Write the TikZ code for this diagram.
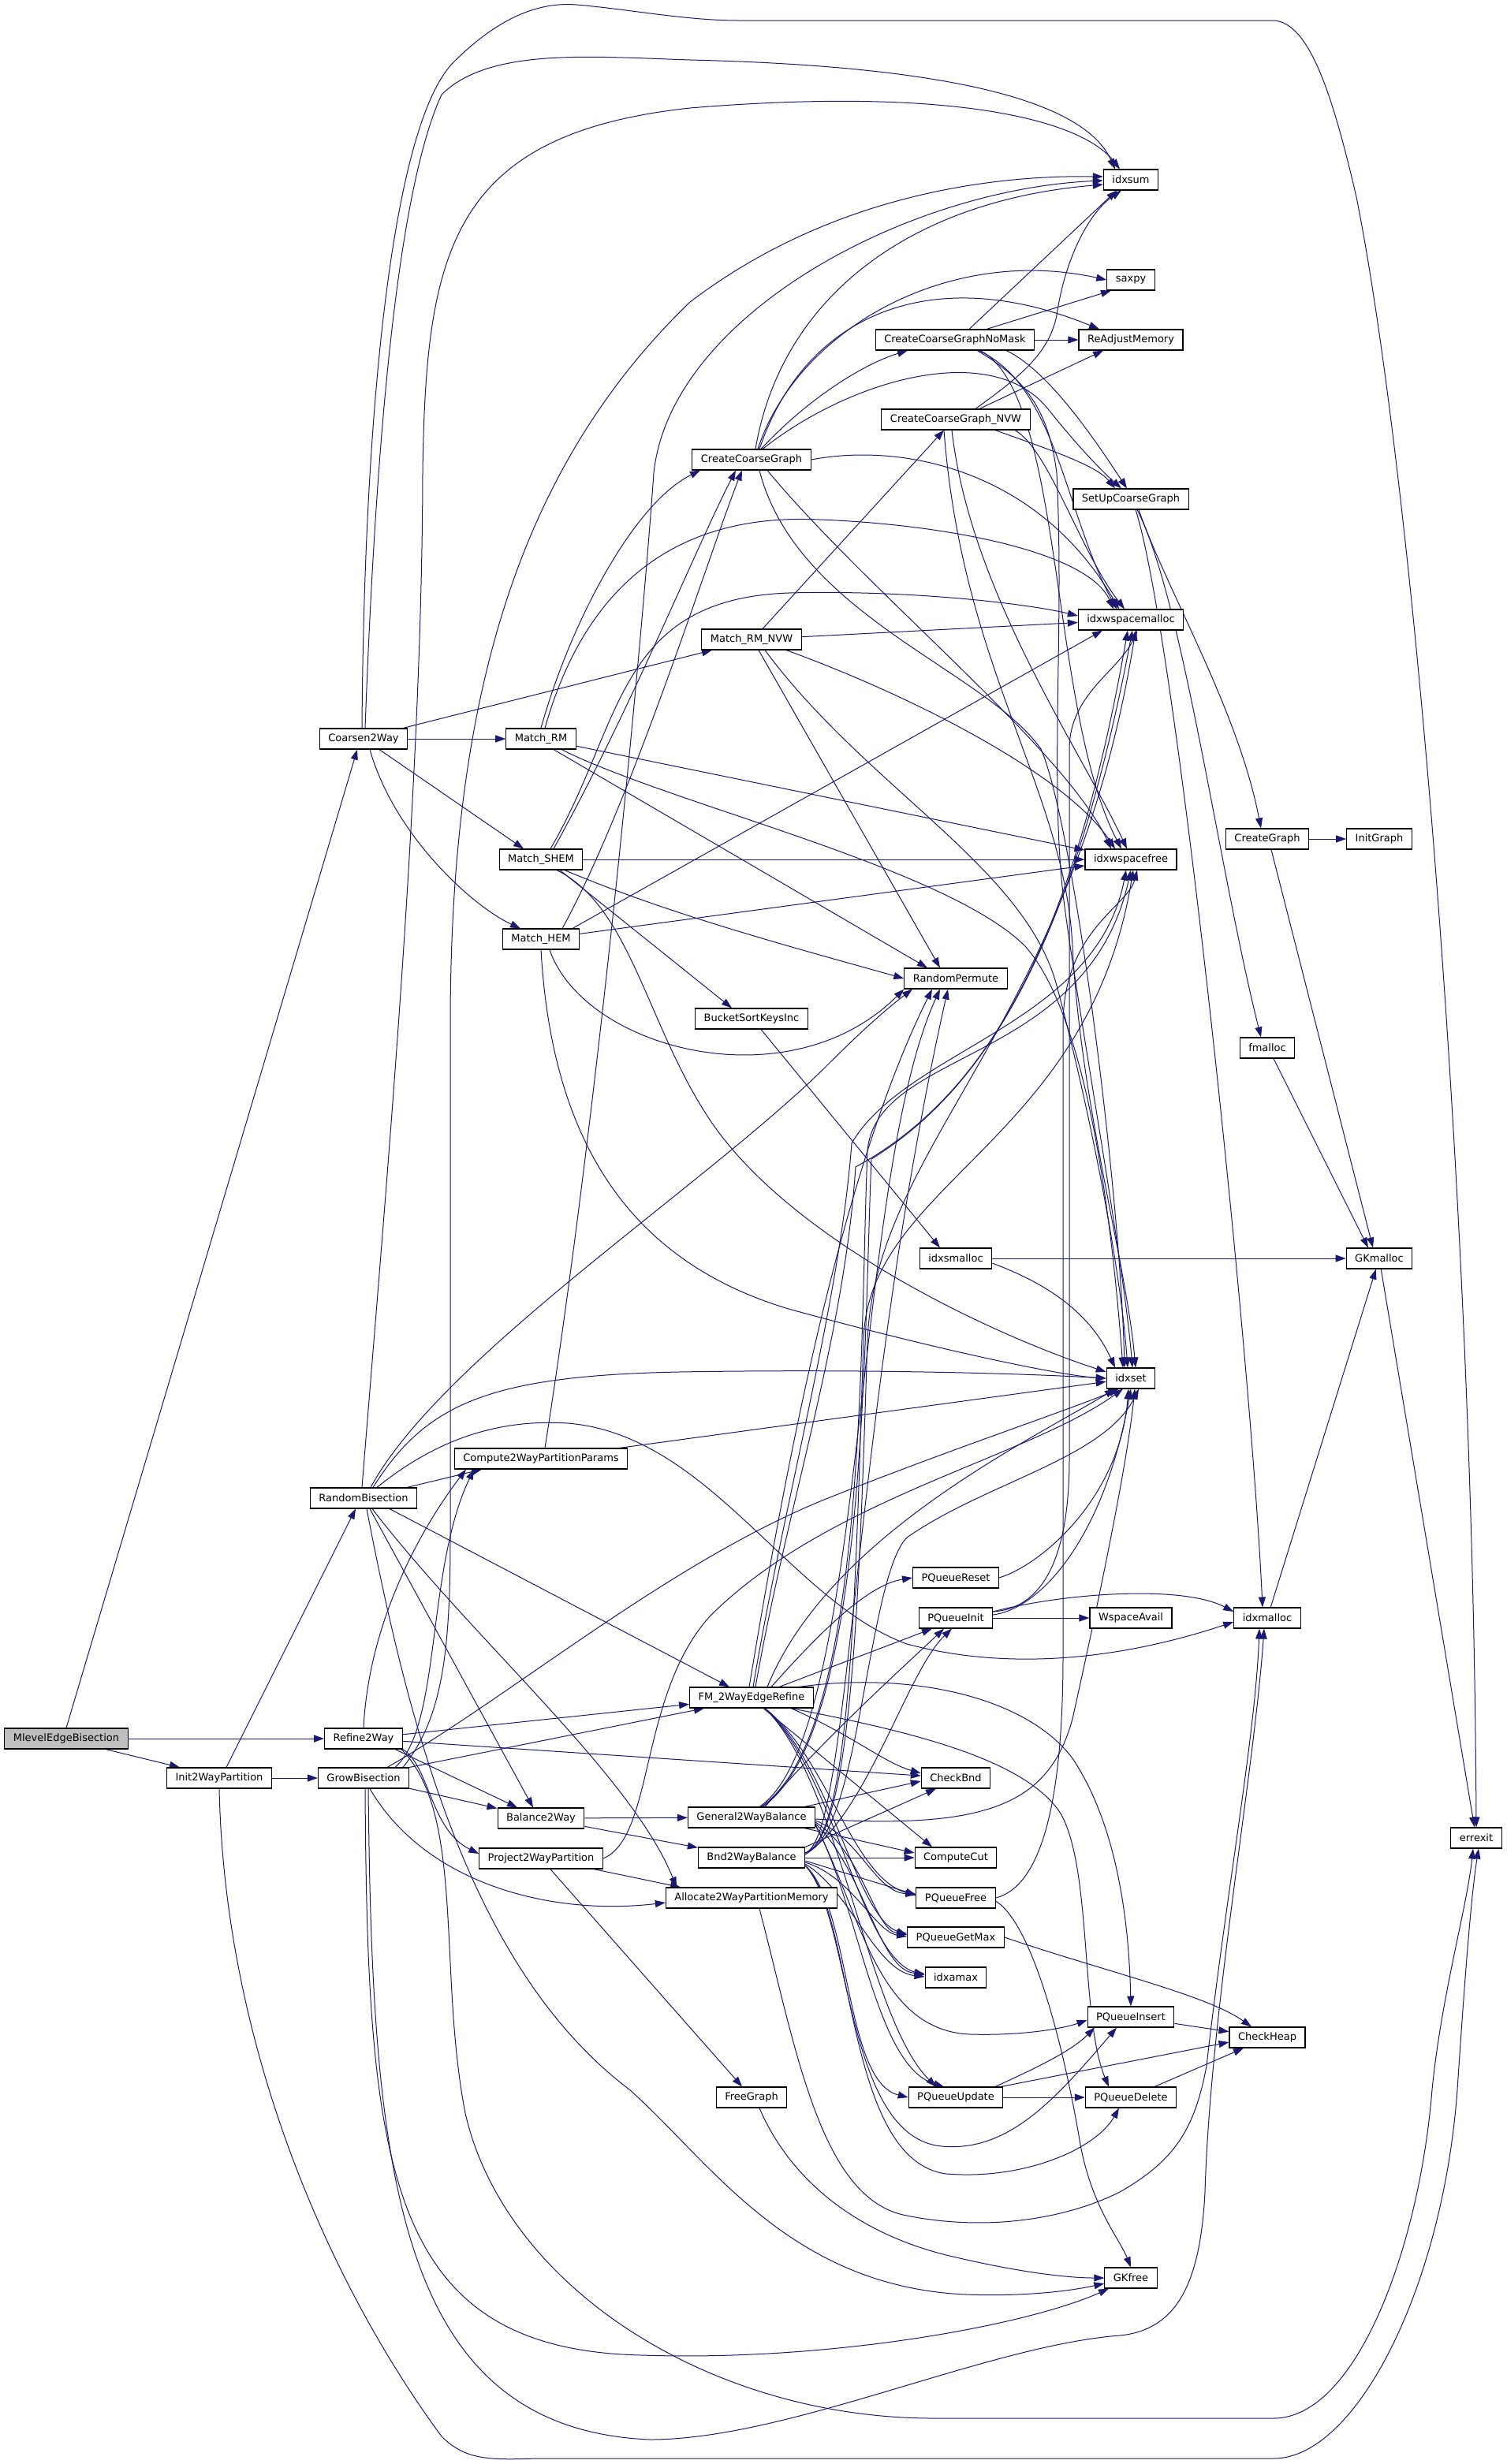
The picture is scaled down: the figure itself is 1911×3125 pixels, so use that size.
\documentclass[tikz,border=0pt]{standalone}
\usepackage{fontspec}
\setmainfont{DejaVu Sans}
\usetikzlibrary{arrows.meta,backgrounds}
\definecolor{edgec}{HTML}{191970}
\definecolor{hl}{HTML}{BFBFBF}
\begin{document}
\begin{tikzpicture}[x=1pt,y=-1pt,
  fn/.style={draw=black, line width=1.1pt, fill=white, rectangle, inner xsep=11pt, inner ysep=0pt,
    minimum height=26pt, font=\fontsize{13}{15}\selectfont, anchor=center},
  call/.style={draw=edgec, line width=1pt, -{Triangle[length=13pt,width=9pt]}}]
\useasboundingbox (0,0) rectangle (1911,3125);

% ---------------- nodes ----------------
\node[fn, fill=hl] (meb) at (84,2205) {MlevelEdgeBisection};
\node[fn] (c2w) at (461,937) {Coarsen2Way};
\node[fn] (i2p) at (278,2255) {Init2WayPartition};
\node[fn] (r2w) at (461,2205) {Refine2Way};
\node[fn] (rb) at (461,1900) {RandomBisection};
\node[fn] (gb) at (461,2255) {GrowBisection};
\node[fn] (mrm) at (686,937) {Match\_RM};
\node[fn] (mrmn) at (953,811) {Match\_RM\_NVW};
\node[fn] (mshem) at (686,1090) {Match\_SHEM};
\node[fn] (mhem) at (686,1191) {Match\_HEM};
\node[fn] (c2pp) at (686,1850) {Compute2WayPartitionParams};
\node[fn] (b2w) at (686,2306) {Balance2Way};
\node[fn] (p2p) at (686,2357) {Project2WayPartition};
\node[fn] (ccg) at (953,583) {CreateCoarseGraph};
\node[fn] (bski) at (953,1292) {BucketSortKeysInc};
\node[fn] (fm) at (953,2153) {FM\_2WayEdgeRefine};
\node[fn] (g2b) at (953,2305) {General2WayBalance};
\node[fn] (bnd) at (953,2356) {Bnd2WayBalance};
\node[fn] (a2pm) at (953,2407) {Allocate2WayPartitionMemory};
\node[fn] (fg) at (953,2660) {FreeGraph};
\node[fn] (ccgnm) at (1211,431) {CreateCoarseGraphNoMask};
\node[fn] (ccgnvw) at (1212,532) {CreateCoarseGraph\_NVW};
\node[fn] (rp) at (1212,1241) {RandomPermute};
\node[fn] (ism) at (1212,1596) {idxsmalloc};
\node[fn] (pqr) at (1212,2001) {PQueueReset};
\node[fn] (pqi) at (1212,2052) {PQueueInit};
\node[fn] (cb) at (1212,2255) {CheckBnd};
\node[fn] (cc) at (1212,2356) {ComputeCut};
\node[fn] (pqf) at (1212,2407) {PQueueFree};
\node[fn] (pqg) at (1212,2457) {PQueueGetMax};
\node[fn] (ia) at (1212,2508) {idxamax};
\node[fn] (pqu) at (1212,2660) {PQueueUpdate};
\node[fn] (isum) at (1434,228) {idxsum};
\node[fn] (saxpy) at (1434,355) {saxpy};
\node[fn] (ram) at (1434,431) {ReAdjustMemory};
\node[fn] (sucg) at (1434,633) {SetUpCoarseGraph};
\node[fn] (iwm) at (1434,786) {idxwspacemalloc};
\node[fn] (iwf) at (1434,1090) {idxwspacefree};
\node[fn] (iset) at (1434,1748) {idxset};
\node[fn] (wa) at (1434,2052) {WspaceAvail};
\node[fn] (pqins) at (1434,2558) {PQueueInsert};
\node[fn] (pqd) at (1434,2660) {PQueueDelete};
\node[fn] (gkf) at (1434,2889) {GKfree};
\node[fn] (cg) at (1607,1064) {CreateGraph};
\node[fn] (fma) at (1607,1329) {fmalloc};
\node[fn] (im) at (1607,2052) {idxmalloc};
\node[fn] (ch) at (1607,2584) {CheckHeap};
\node[fn] (ig) at (1749,1064) {InitGraph};
\node[fn] (gkm) at (1749,1596) {GKmalloc};
\node[fn] (err) at (1872,2331) {errexit};

\begin{scope}[on background layer]
\fill[white] (0,0) rectangle (1911,3125);

% MlevelEdgeBisection
\draw[call] (meb.north) -- ([xshift=-8pt]c2w.south);
\draw[call] (meb) -- (r2w);
\draw[call] ([xshift=50pt]meb.south) -- ([xshift=-50pt]i2p.north);

% Init2WayPartition
\draw[call] (i2p) -- (gb);
\draw[call] ([xshift=9pt]i2p.north) -- ([xshift=-10pt]rb.south);
\draw[call] (i2p.south) .. controls (285,2600) and (420,2900) .. (560,3090) .. controls (590,3120) and (620,3120) .. (680,3118) -- (1615,3118) .. controls (1720,3118) and (1830,2900) .. (1848,2650) .. controls (1858,2500) and (1866,2400) .. ([xshift=3pt]err.south);

% Coarsen2Way
\draw[call] (c2w) -- (mrm);
\draw[call] ([xshift=50pt]c2w.north) -- ([xshift=-50pt]mrmn.south);
\draw[call] ([xshift=20pt]c2w.south) -- ([xshift=-22pt]mshem.north);
\draw[call] ([xshift=8pt]c2w.south) .. controls (500,1060) and (600,1150) .. ([xshift=-26pt]mhem.north);
\draw[call] ([xshift=2pt]c2w.north) .. controls (475,600) and (500,250) .. (560,120) .. controls (620,60) and (750,72) .. (875,76) .. controls (1250,85) and (1380,140) .. ([xshift=-20pt]isum.north);
\draw[call] ([xshift=-2pt]c2w.north) .. controls (462,500) and (500,150) .. (577,77) .. controls (630,25) and (680,2) .. (731,6) .. controls (800,12) and (870,26) .. (937,26) -- (1615,26) .. controls (1660,28) and (1690,120) .. (1720,250) .. controls (1790,600) and (1868,1500) .. (err.north);

% Match_RM
\draw[call] (mrm.north) .. controls (720,800) and (800,640) .. ([xshift=-65pt]ccg.south);
\draw[call] ([xshift=5pt]mrm.north) .. controls (740,750) and (850,650) .. (1039,659) .. controls (1200,665) and (1380,700) .. ([xshift=-22pt]iwm.north);
\draw[call] (mrm) -- (iwf);
\draw[call] ([xshift=16pt]mrm.south) -- ([xshift=-36pt]rp.north);
\draw[call] ([xshift=26pt]mrm.south) .. controls (850,1020) and (1200,1100) .. (1300,1200) .. controls (1380,1290) and (1410,1550) .. ([xshift=-10pt]iset.north);

% Match_RM_NVW
\draw[call] ([xshift=14pt]mrmn.north) -- ([xshift=-15pt]ccgnvw.south);
\draw[call] (mrmn) -- (iwm);
\draw[call] ([xshift=9pt]mrmn.south) -- ([xshift=-20pt]rp.north);
\draw[call] ([xshift=44pt]mrmn.south) .. controls (1150,880) and (1350,980) .. ([xshift=-20pt]iwf.north);
\draw[call] ([xshift=17pt]mrmn.south) .. controls (1100,1000) and (1300,1100) .. (1340,1250) .. controls (1380,1400) and (1420,1600) .. ([xshift=-4pt]iset.north);

% Match_SHEM
\draw[call] ([xshift=16pt]mshem.north) .. controls (800,900) and (880,700) .. ([xshift=-20pt]ccg.south);
\draw[call] ([xshift=12pt]mshem.north) .. controls (790,920) and (780,760) .. (1000,752) .. controls (1150,748) and (1300,765) .. ([yshift=5pt]iwm.west);
\draw[call] (mshem) -- (iwf);
\draw[call] ([xshift=30pt]mshem.south) .. controls (850,1160) and (1000,1200) .. (rp.west);
\draw[call] ([xshift=24pt]mshem.south) -- ([xshift=-25pt]bski.north);
\draw[call] ([xshift=20pt]mshem.south) .. controls (800,1150) and (820,1300) .. (900,1420) .. controls (1000,1570) and (1250,1690) .. ([yshift=8pt]iset.west);

% Match_HEM
\draw[call] ([xshift=27pt]mhem.north) .. controls (800,1020) and (900,700) .. ([xshift=-12pt]ccg.south);
\draw[call] ([xshift=40pt]mhem.north) -- ([xshift=-36pt]iwm.south);
\draw[call] (mhem) -- (iwf);
\draw[call] ([xshift=11pt]mhem.south) .. controls (740,1330) and (1000,1400) .. (rp.south west);
\draw[call] (mhem.south) .. controls (700,1450) and (800,1600) .. (1000,1660) .. controls (1200,1715) and (1350,1745) .. (iset.west);

% BucketSortKeysInc, idxsmalloc
\draw[call] ([xshift=12pt]bski.south) -- ([xshift=-20pt]ism.north);
\draw[call] (ism) -- (gkm);
\draw[call] ([yshift=-6pt]ism.east) .. controls (1320,1625) and (1380,1660) .. ([xshift=-20pt]iset.north);

% CreateGraph, fmalloc, GKmalloc, idxmalloc
\draw[call] (cg) -- (ig);
\draw[call] ([xshift=5pt]cg.south) -- ([xshift=-8pt]gkm.north);
\draw[call] ([xshift=8pt]fma.south) -- ([xshift=-14pt]gkm.north);
\draw[call] (gkm) -- (err);
\draw[call] (im) -- (gkm);

% SetUpCoarseGraph
\draw[call] ([xshift=10pt]sucg.south) .. controls (1480,750) and (1570,900) .. ([xshift=-8pt]cg.north);
\draw[call] ([xshift=8pt]sucg.south) .. controls (1500,760) and (1545,1100) .. ([xshift=-8pt]fma.north);
\draw[call] ([xshift=6pt]sucg.south) .. controls (1490,800) and (1585,1700) .. ([xshift=-6pt]im.north);

% CreateCoarseGraph
\draw[call] ([xshift=5pt]ccg.north) .. controls (990,380) and (1150,255) .. ([yshift=-6pt]isum.west);
\draw[call] ([xshift=8pt]ccg.north) .. controls (1010,420) and (1200,310) .. (saxpy.west);
\draw[call] ([xshift=10pt]ccg.north) .. controls (1020,400) and (1180,330) .. ([xshift=-40pt]ram.north);
\draw[call] ([xshift=12pt]ccg.north) .. controls (1030,500) and (1100,460) .. ([xshift=-60pt]ccgnm.south);
\draw[call] ([xshift=14pt]ccg.north) .. controls (1080,480) and (1260,430) .. (1330,520) .. controls (1370,570) and (1400,600) .. ([xshift=-12pt]sucg.north);
\draw[call] (ccg.east) .. controls (1150,560) and (1320,600) .. ([xshift=-15pt]iwm.north);
\draw[call] ([xshift=10pt]ccg.south) .. controls (1010,780) and (1250,850) .. (1320,950) .. controls (1360,1040) and (1420,1500) .. ([xshift=-8pt]iset.north);
\draw[call] ([xshift=20pt]ccg.south) .. controls (1100,750) and (1350,950) .. ([xshift=-25pt]iwf.north);

% CreateCoarseGraphNoMask
\draw[call] ([xshift=18pt]ccgnm.north) -- ([xshift=-18pt]isum.south);
\draw[call] ([xshift=40pt]ccgnm.north) -- ([xshift=-25pt]saxpy.south);
\draw[call] (ccgnm) -- (ram);
\draw[call] ([xshift=65pt]ccgnm.south) .. controls (1330,470) and (1390,560) .. ([xshift=-5pt]sucg.north);
\draw[call] ([xshift=30pt]ccgnm.south) .. controls (1340,490) and (1350,650) .. ([xshift=-18pt]iwm.north);
\draw[call] ([xshift=32pt]ccgnm.south) .. controls (1350,500) and (1330,900) .. ([xshift=-12pt]iwf.north);
\draw[call] ([xshift=28pt]ccgnm.south) .. controls (1300,480) and (1330,520) .. (1340,600) .. controls (1350,800) and (1330,1000) .. (1350,1150) .. controls (1370,1300) and (1425,1600) .. ([xshift=2pt]iset.north);

% CreateCoarseGraph_NVW
\draw[call] ([xshift=25pt]ccgnvw.north) .. controls (1290,480) and (1330,450) .. (1340,400) .. controls (1350,330) and (1380,270) .. ([xshift=-12pt]isum.south);
\draw[call] ([xshift=30pt]ccgnvw.north) -- ([xshift=-35pt]ram.south);
\draw[call] ([xshift=50pt]ccgnvw.south) .. controls (1330,570) and (1390,590) .. ([xshift=-20pt]sucg.north);
\draw[call] ([xshift=75pt]ccgnvw.south) .. controls (1330,570) and (1370,700) .. ([xshift=-8pt]iwm.north);
\draw[call] ([xshift=-5pt]ccgnvw.south) .. controls (1230,750) and (1370,950) .. ([xshift=-5pt]iwf.north);
\draw[call] ([xshift=-15pt]ccgnvw.south) .. controls (1220,850) and (1350,1000) .. (1360,1200) .. controls (1370,1400) and (1428,1600) .. ([xshift=6pt]iset.north);

% RandomBisection
\draw[call] ([xshift=-2pt]rb.north) .. controls (490,1500) and (535,1000) .. (536,600) .. controls (540,320) and (570,170) .. (875,137) .. controls (1200,110) and (1370,150) .. ([xshift=-14pt]isum.north);
\draw[call] ([xshift=55pt]rb.north) -- ([xshift=-75pt]c2pp.south);
\draw[call] ([xshift=9pt]rb.north) .. controls (560,1720) and (900,1500) .. (1050,1350) .. controls (1100,1300) and (1130,1275) .. ([xshift=-55pt]rp.south);
\draw[call] ([xshift=12pt]rb.north) .. controls (540,1780) and (620,1745) .. (860,1740) .. controls (1100,1736) and (1300,1742) .. (iset.west);
\draw[call] ([xshift=17pt]rb.north) .. controls (560,1820) and (640,1800) .. (720,1805) .. controls (900,1820) and (1000,2030) .. (1150,2085) .. controls (1300,2125) and (1450,2095) .. ([yshift=-5pt]im.west);
\draw[call] ([xshift=33pt]rb.south) -- ([xshift=-28pt]fm.north);
\draw[call] ([xshift=8pt]rb.south) -- ([xshift=-10pt]b2w.north);
\draw[call] ([xshift=11pt]rb.south) .. controls (600,2080) and (800,2250) .. ([xshift=-95pt]a2pm.north);
\draw[call] ([xshift=4pt]rb.south) .. controls (520,2200) and (600,2500) .. (798,2650) .. controls (900,2740) and (1000,2900) .. (1225,2910) .. controls (1300,2913) and (1360,2905) .. ([yshift=-7pt]gkf.west);

% GrowBisection
\draw[call] ([xshift=50pt]gb.north) .. controls (560,2180) and (571,2100) .. (571,1950) -- (571,1300) .. controls (571,900) and (650,600) .. (875,383) .. controls (1050,250) and (1250,222) .. ([yshift=4pt]isum.west);
\draw[call] ([xshift=40pt]gb.north) .. controls (560,2190) and (540,1990) .. ([xshift=-85pt]c2pp.south);
\draw[call] ([xshift=30pt]gb.north) .. controls (650,2150) and (850,1980) .. (1050,1900) .. controls (1200,1840) and (1350,1790) .. ([xshift=-15pt]iset.south);
\draw[call] (gb.north east) -- ([xshift=-60pt]fm.south);
\draw[call] (gb) -- (b2w);
\draw[call] ([xshift=8pt]gb.south) .. controls (540,2390) and (700,2430) .. ([yshift=-6pt]a2pm.west);
\draw[call] ([xshift=2pt]gb.south) .. controls (466,2750) and (490,2980) .. (814,2987) .. controls (1050,2995) and (1300,2950) .. ([xshift=-28pt]gkf.south);
\draw[call] ([xshift=6pt]gb.south) .. controls (472,2750) and (500,3080) .. (824,3094) .. controls (1000,3094) and (1250,2975) .. (1420,2962) .. controls (1490,2955) and (1522,2900) .. (1528,2780) .. controls (1535,2550) and (1590,2250) .. ([xshift=-4pt]im.south);

% Refine2Way
\draw[call] (r2w.north) .. controls (468,2050) and (540,1930) .. ([xshift=-95pt]c2pp.south);
\draw[call] (r2w) -- (fm);
\draw[call] (r2w) -- (cb);
\draw[call] ([xshift=40pt]r2w.south) -- ([xshift=-30pt]b2w.north);
\draw[call] (r2w.south east) .. controls (545,2240) and (545,2320) .. ([yshift=6pt]p2p.west);
\draw[call] ([xshift=48pt]r2w.south) .. controls (590,2300) and (555,2500) .. (590,2680) .. controls (640,2900) and (900,3067) .. (1184,3067) -- (1615,3067) .. controls (1720,3067) and (1800,2850) .. (1816,2650) .. controls (1828,2530) and (1860,2420) .. ([xshift=-4pt]err.south);

% Compute2WayPartitionParams
\draw[call] ([xshift=5pt]c2pp.north) .. controls (760,1400) and (815,800) .. (829,600) .. controls (850,400) and (1150,240) .. ([yshift=-1pt]isum.west);
\draw[call] (c2pp) -- (iset);

% Balance2Way, Project2WayPartition
\draw[call] (b2w) -- (g2b);
\draw[call] (b2w) -- (bnd);
\draw[call] ([xshift=67pt]p2p.south) -- ([xshift=-90pt]a2pm.north);
\draw[call] (p2p) -- (fg);
\draw[call] (p2p.east) .. controls (830,2330) and (810,2150) .. (900,2050) .. controls (1050,1900) and (1300,1850) .. ([xshift=-10pt]iset.south);

% FM_2WayEdgeRefine
\draw[call] ([xshift=5pt]fm.north) .. controls (1000,1900) and (1070,1700) .. (1085,1480) .. controls (1250,1390) and (1360,1200) .. ([xshift=-4pt]iwm.south);
\draw[call] ([xshift=2pt]fm.north) .. controls (995,1900) and (1065,1650) .. (1080,1450) .. controls (1150,1330) and (1390,1300) .. ([xshift=-6pt]iwf.south);
\draw[call] ([xshift=-3pt]fm.north) .. controls (990,1900) and (1060,1500) .. ([xshift=-30pt]rp.south);
\draw[call] ([xshift=20pt]fm.north) .. controls (1050,1950) and (1300,1830) .. ([xshift=-20pt]iset.south);
\draw[call] ([xshift=25pt]fm.north) .. controls (1040,2070) and (1100,2010) .. (pqr.west);
\draw[call] ([xshift=35pt]fm.north) -- ([xshift=-30pt]pqi.south);
\draw[call] ([xshift=60pt]fm.north) .. controls (1150,2120) and (1300,2150) .. (1360,2230) .. controls (1420,2320) and (1432,2450) .. (pqins.north);
\draw[call] ([xshift=50pt]fm.south) .. controls (1150,2195) and (1300,2230) .. (1345,2300) .. controls (1385,2370) and (1370,2560) .. ([xshift=-28pt]pqd.north);
\draw[call] ([xshift=15pt]fm.south) -- ([xshift=-30pt]cc.north);
\draw[call] ([xshift=50pt]fm.south) .. controls (1080,2200) and (1120,2235) .. ([yshift=6pt]cb.west);
\draw[call] ([xshift=17pt]fm.south) .. controls (1050,2230) and (1080,2380) .. ([yshift=3pt]pqf.west);
\draw[call] ([xshift=17pt]fm.south) .. controls (1055,2240) and (1085,2430) .. ([yshift=3pt]pqg.west);
\draw[call] ([xshift=17pt]fm.south) .. controls (1060,2250) and (1090,2480) .. ([yshift=3pt]ia.west);
\draw[call] ([xshift=17pt]fm.south) .. controls (1065,2260) and (1100,2560) .. ([xshift=-25pt]pqu.north);

% General2WayBalance
\draw[call] ([xshift=17pt]g2b.north) .. controls (1050,2200) and (1150,2110) .. ([xshift=-15pt]pqi.south);
\draw[call] ([xshift=67pt]g2b.north) -- ([yshift=-4pt]cb.west);
\draw[call] ([yshift=-2pt]g2b.east) .. controls (1250,2320) and (1330,2290) .. (1360,2180) .. controls (1400,2000) and (1430,1850) .. ([xshift=5pt]iset.south);
\draw[call] ([xshift=67pt]g2b.south) -- ([yshift=6pt]cc.west);
\draw[call] ([yshift=-4pt]g2b.east) .. controls (1090,2330) and (1110,2400) .. ([yshift=5pt]pqf.west);
\draw[call] ([yshift=-6pt]g2b.east) .. controls (1095,2350) and (1110,2450) .. ([yshift=5pt]pqg.west);
\draw[call] ([yshift=-8pt]g2b.east) .. controls (1095,2370) and (1115,2500) .. ([yshift=5pt]ia.west);
\draw[call] ([yshift=-9pt]g2b.east) .. controls (1090,2420) and (1110,2620) .. ([xshift=-15pt]pqu.north);
\draw[call] ([yshift=-10pt]g2b.east) .. controls (1090,2420) and (1110,2575) .. (1230,2580) .. controls (1300,2582) and (1350,2572) .. ([yshift=-4pt]pqins.west);
\draw[call] ([xshift=12pt]g2b.north) .. controls (1100,2200) and (1090,1700) .. (1100,1460) .. controls (1110,1330) and (1380,1350) .. (iwf.south);
\draw[call] ([xshift=14pt]g2b.north) .. controls (1100,2200) and (1095,1700) .. (1105,1470) .. controls (1250,1380) and (1360,1200) .. ([xshift=2pt]iwm.south);
\draw[call] ([xshift=10pt]g2b.north) .. controls (1100,2200) and (1080,1500) .. ([xshift=-20pt]rp.south);

% Bnd2WayBalance
\draw[call] (bnd) -- (cc);
\draw[call] (bnd.north east) -- ([xshift=-25pt]cb.south);
\draw[call] ([yshift=4pt]bnd.east) .. controls (1100,2300) and (1150,2120) .. ([xshift=-5pt]pqi.south);
\draw[call] ([yshift=6pt]bnd.east) .. controls (1080,2330) and (1085,2000) .. (1095,1700) .. controls (1100,1500) and (1380,1450) .. ([xshift=3pt]iwf.south);
\draw[call] ([yshift=6pt]bnd.east) .. controls (1082,2330) and (1090,2000) .. (1100,1700) .. controls (1110,1450) and (1360,1300) .. ([xshift=6pt]iwm.south);
\draw[call] ([yshift=6pt]bnd.east) .. controls (1078,2330) and (1080,1800) .. ([xshift=-10pt]rp.south);
\draw[call] ([yshift=6pt]bnd.east) .. controls (1090,2330) and (1100,2000) .. (1150,1950) .. controls (1250,1880) and (1400,1850) .. ([xshift=10pt]iset.south);
\draw[call] ([yshift=-4pt]bnd.east) -- ([yshift=4pt]pqf.west);
\draw[call] ([yshift=-6pt]bnd.east) .. controls (1080,2380) and (1110,2450) .. ([yshift=1pt]pqg.west);
\draw[call] ([yshift=-8pt]bnd.east) .. controls (1080,2400) and (1110,2500) .. ([yshift=1pt]ia.west);
\draw[call] ([yshift=-10pt]bnd.east) .. controls (1080,2420) and (1070,2640) .. (pqu.west);
\draw[call] ([yshift=-10pt]bnd.east) .. controls (1085,2430) and (1070,2740) .. (1200,2757) .. controls (1300,2765) and (1390,2725) .. ([xshift=-15pt]pqd.south);
\draw[call] ([yshift=-10pt]bnd.east) .. controls (1080,2430) and (1070,2710) .. (1194,2722) .. controls (1280,2730) and (1340,2660) .. ([xshift=-18pt]pqins.south);

% Allocate2WayPartitionMemory, FreeGraph
\draw[call] ([xshift=10pt]a2pm.south) .. controls (1010,2600) and (1040,2790) .. (1150,2810) .. controls (1250,2830) and (1350,2815) .. (1420,2780) .. controls (1490,2740) and (1515,2700) .. (1530,2620) .. controls (1555,2400) and (1592,2200) .. ([xshift=-10pt]im.south);
\draw[call] ([xshift=10pt]fg.south) .. controls (1000,2760) and (1080,2830) .. (1200,2860) .. controls (1300,2884) and (1360,2889) .. (gkf.west);

% PQueue functions
\draw[call] (pqr.east) .. controls (1320,1985) and (1420,1900) .. ([xshift=-3pt]iset.south);
\draw[call] ([yshift=4pt]pqi.east) .. controls (1320,2040) and (1400,1950) .. (iset.south);
\draw[call] ([yshift=8pt]pqi.east) .. controls (1320,2040) and (1356,1980) .. (1356,1850) -- (1356,950) .. controls (1356,880) and (1420,850) .. ([xshift=8pt]iwm.south);
\draw[call] (pqi) -- (wa);
\draw[call] ([yshift=8pt]pqi.east) .. controls (1350,2020) and (1500,2010) .. ([yshift=8pt]im.west);
\draw[call] (pqf.east) .. controls (1330,2390) and (1348,2250) .. (1348,2100) -- (1348,1300) .. controls (1348,1180) and (1430,1150) .. ([xshift=8pt]iwf.south);
\draw[call] ([yshift=-4pt]pqf.east) .. controls (1310,2440) and (1350,2600) .. (1370,2720) .. controls (1385,2800) and (1420,2840) .. (gkf.north);
\draw[call] (pqg.east) .. controls (1400,2500) and (1530,2530) .. ([xshift=-20pt]ch.north);
\draw[call] (pqins) -- (ch);
\draw[call] ([xshift=30pt]pqd.north) -- ([xshift=-30pt]ch.south);
\draw[call] (pqu) -- (pqd);
\draw[call] ([xshift=50pt]pqu.north) .. controls (1320,2620) and (1360,2600) .. ([xshift=-46pt]pqins.south);
\draw[call] ([xshift=57pt]pqu.north) -- ([yshift=-6pt]ch.west);
\end{scope}
\end{tikzpicture}
\end{document}
